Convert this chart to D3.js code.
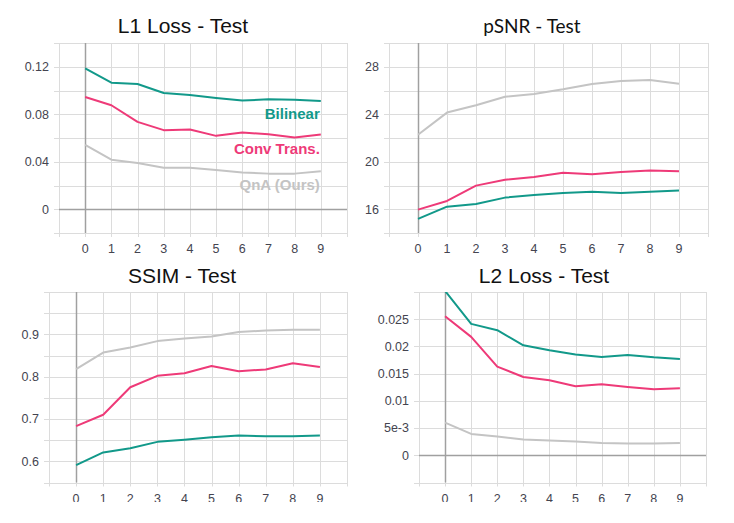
<!DOCTYPE html>
<html>
<head>
<meta charset="utf-8">
<script src="https://cdn.jsdelivr.net/npm/d3@7"></script>
<style>
  body { margin: 0; background: #fff; }
  svg { display: block; }
</style>
</head>
<body>
<svg id="chart" width="734" height="523"></svg>
<script>
// ---- data ----
const epochs = [0, 1, 2, 3, 4, 5, 6, 7, 8, 9];
const seriesNames = ["Bilinear", "Conv Trans.", "QnA (Ours)"];
const seriesColors = ["#12998a", "#ee3a78", "#c4c4c4"];

const l1Bilinear = [0.1186, 0.1066, 0.1055, 0.0979, 0.0962, 0.0937, 0.0915, 0.0926, 0.0923, 0.0912];
const l1Conv     = [0.0945, 0.0876, 0.0736, 0.0666, 0.0671, 0.0618, 0.0646, 0.0632, 0.0604, 0.0630];
const l1QnA      = [0.0543, 0.0417, 0.0389, 0.0350, 0.0350, 0.0330, 0.0310, 0.0300, 0.0300, 0.0320];

const psnrBilinear = [15.19, 16.22, 16.45, 16.98, 17.20, 17.37, 17.48, 17.37, 17.48, 17.57];
const psnrConv     = [15.97, 16.70, 17.99, 18.49, 18.71, 19.08, 18.94, 19.13, 19.27, 19.19];
const psnrQnA      = [22.27, 24.14, 24.76, 25.48, 25.71, 26.10, 26.55, 26.80, 26.88, 26.57];

const ssimBilinear = [0.591, 0.621, 0.631, 0.646, 0.651, 0.657, 0.661, 0.659, 0.659, 0.661];
const ssimConv     = [0.683, 0.710, 0.775, 0.802, 0.808, 0.825, 0.813, 0.817, 0.8315, 0.823];
const ssimQnA      = [0.818, 0.857, 0.869, 0.884, 0.890, 0.895, 0.9055, 0.909, 0.911, 0.911];

const l2Bilinear = [0.0302, 0.02414, 0.02298, 0.02021, 0.0193, 0.0185, 0.01807, 0.01844, 0.0180, 0.0177];
const l2Conv     = [0.02555, 0.02175, 0.01629, 0.01439, 0.01377, 0.01267, 0.01304, 0.01255, 0.01212, 0.0123];
const l2QnA      = [0.0060, 0.00393, 0.00344, 0.00289, 0.0027, 0.00252, 0.00227, 0.00215, 0.00215, 0.00227];

const titles = ["L1 Loss - Test", "pSNR - Test", "SSIM - Test", "L2 Loss - Test"];
const yDomains = [[-0.02, 0.14], [14, 30], [0.55, 1.0], [-0.005, 0.03]];
const yGridSteps = [0.02, 2, 0.05, 0.005];
const yTickValues = [[0, 0.04, 0.08, 0.12], [16, 20, 24, 28], [0.6, 0.7, 0.8, 0.9], [0, 0.005, 0.01, 0.015, 0.02, 0.025]];
const yTickLabels = [["0", "0.04", "0.08", "0.12"], ["16", "20", "24", "28"], ["0.6", "0.7", "0.8", "0.9"], ["0", "5e-3", "0.01", "0.015", "0.02", "0.025"]];
const xDomain = [-1, 10];

// ---- layout ----
const panels = [
  { rect: [59, 43, 347, 233], title: [183, 33], titleFont: "Arial, 'Liberation Sans', sans-serif", titleSize: 21,
    series: [l1Bilinear, l1Conv, l1QnA], legend: true, zeroLine: true },
  { rect: [389, 43, 708, 233], title: [532, 33], titleFont: "Lato, 'Open Sans', sans-serif", titleSize: 19,
    series: [psnrBilinear, psnrConv, psnrQnA], legend: false, zeroLine: false },
  { rect: [49, 292, 347, 482.5], title: [182, 283], titleFont: "Arial, 'Liberation Sans', sans-serif", titleSize: 21,
    series: [ssimBilinear, ssimConv, ssimQnA], legend: false, zeroLine: false },
  { rect: [419, 292, 706, 482.5], title: [544, 283], titleFont: "Arial, 'Liberation Sans', sans-serif", titleSize: 21,
    series: [l2Bilinear, l2Conv, l2QnA], legend: false, zeroLine: true }
];

const svg = d3.select("#chart");
const defs = svg.append("defs");
defs.append("clipPath").attr("id", "pageclip")
  .append("rect").attr("x", 0).attr("y", 0).attr("width", 734).attr("height", 502);

panels.forEach((p, i) => {
  const [x0, y0, x1, y1] = p.rect;
  const x = d3.scaleLinear().domain(xDomain).range([x0, x1]);
  const y = d3.scaleLinear().domain(yDomains[i]).range([y1, y0]);
  const g = svg.append("g").attr("clip-path", "url(#pageclip)");

  // clip for plot area
  defs.append("clipPath").attr("id", "plot" + i)
    .append("rect").attr("x", x0).attr("y", y0).attr("width", x1 - x0).attr("height", y1 - y0);

  // grid
  const xs = d3.range(xDomain[0], xDomain[1] + 1);
  const [dmin, dmax] = yDomains[i];
  const step = yGridSteps[i];
  const nSteps = Math.round((dmax - dmin) / step);
  const ys = d3.range(nSteps + 1).map(k => dmin + k * step);

  g.append("g").selectAll("line").data(ys).join("line")
    .attr("x1", x0 - 5).attr("x2", x1)
    .attr("y1", d => Math.round(y(d)) + 0.5).attr("y2", d => Math.round(y(d)) + 0.5)
    .attr("stroke", "#dcdcdc").attr("stroke-width", 1);
  g.append("g").selectAll("line").data(xs).join("line")
    .attr("x1", d => Math.round(x(d)) + 0.5).attr("x2", d => Math.round(x(d)) + 0.5)
    .attr("y1", y0).attr("y2", y1 + 4)
    .attr("stroke", "#dcdcdc").attr("stroke-width", 1);

  // zero lines
  g.append("line")
    .attr("x1", Math.round(x(0)) + 0.5).attr("x2", Math.round(x(0)) + 0.5)
    .attr("y1", y0).attr("y2", y1)
    .attr("stroke", "#a0a0a0").attr("stroke-width", 1.5);
  if (p.zeroLine) {
    g.append("line")
      .attr("x1", x0).attr("x2", x1)
      .attr("y1", Math.round(y(0)) + 0.5).attr("y2", Math.round(y(0)) + 0.5)
      .attr("stroke", "#a0a0a0").attr("stroke-width", 1.5);
  }

  // y tick labels
  g.append("g").selectAll("text").data(yTickValues[i]).join("text")
    .attr("x", x0 - 10).attr("y", d => y(d))
    .attr("dy", "0.35em").attr("text-anchor", "end")
    .attr("font-family", "Arial, 'Liberation Sans', sans-serif").attr("font-size", 12.5)
    .attr("fill", "#444450")
    .text((d, k) => yTickLabels[i][k]);

  // x tick labels
  g.append("g").selectAll("text").data(epochs).join("text")
    .attr("x", d => x(d)).attr("y", y1 + 20)
    .attr("text-anchor", "middle")
    .attr("font-family", "Arial, 'Liberation Sans', sans-serif").attr("font-size", 12.5)
    .attr("fill", "#444450")
    .text(d => d);

  // lines
  const line = d3.line().x((d, k) => x(epochs[k])).y(d => y(d));
  const lg = g.append("g").attr("clip-path", "url(#plot" + i + ")");
  p.series.forEach((s, k) => {
    lg.append("path").datum(s)
      .attr("d", line)
      .attr("fill", "none")
      .attr("stroke", seriesColors[k])
      .attr("stroke-width", 2)
      .attr("stroke-linejoin", "round");
  });

  // title
  svg.append("text")
    .attr("x", p.title[0]).attr("y", p.title[1])
    .attr("text-anchor", "middle")
    .attr("font-family", p.titleFont).attr("font-size", p.titleSize)
    .attr("fill", "#111")
    .text(titles[i]);

  // legend
  if (p.legend) {
    const legendY = [119, 154, 190];
    svg.append("g").selectAll("text").data(seriesNames).join("text")
      .attr("x", x(9) - 1).attr("y", (d, k) => legendY[k])
      .attr("text-anchor", "end")
      .attr("font-family", "Arial, 'Liberation Sans', sans-serif")
      .attr("font-size", 15).attr("font-weight", "bold")
      .attr("fill", (d, k) => seriesColors[k])
      .text(d => d);
  }
});
</script>
</body>
</html>
